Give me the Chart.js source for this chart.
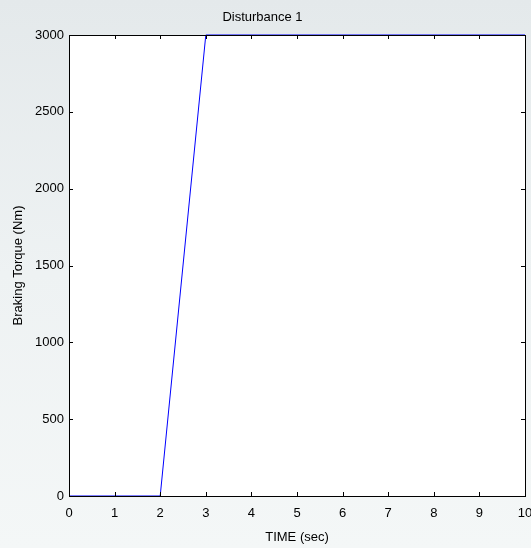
<!DOCTYPE html>
<html>
<head>
<meta charset="utf-8">
<script src="https://cdn.jsdelivr.net/npm/chart.js@4.4.1/dist/chart.umd.min.js"></script>
<style>
  html, body { margin: 0; padding: 0; }
  body {
    width: 531px; height: 548px;
    background: linear-gradient(to bottom, #e4e9eb 0%, #eef2f3 50%, #f4f7f7 100%);
  }
  #wrap { position: relative; width: 531px; height: 548px; }
</style>
</head>
<body>
<div id="wrap"><canvas id="chart" width="531" height="548"></canvas></div>
<script>
// --- data ---
const timeSec = [0, 2, 3, 10];
const torqueNm = [0, 0, 3000, 3000];
const xTicks = [0, 1, 2, 3, 4, 5, 6, 7, 8, 9, 10];
const yTicks = [0, 500, 1000, 1500, 2000, 2500, 3000];

const FONT = 'Liberation Sans, Arial, sans-serif';

// white plot area + box + inward ticks on all four sides (matlab style)
const matlabFrame = {
  id: 'matlabFrame',
  beforeDatasetsDraw(chart) {
    const { ctx, chartArea: a } = chart;
    ctx.save();
    ctx.fillStyle = '#ffffff';
    ctx.fillRect(a.left, a.top, a.right - a.left, a.bottom - a.top);
    ctx.restore();
  },
  afterDatasetsDraw(chart) {
    const { ctx, chartArea: a, scales } = chart;
    const len = 4;
    ctx.save();
    ctx.strokeStyle = '#000';
    ctx.lineWidth = 1;
    ctx.beginPath();
    scales.x.ticks.forEach(t => {
      const px = Math.round(scales.x.getPixelForValue(t.value)) + 0.5;
      ctx.moveTo(px, a.bottom); ctx.lineTo(px, a.bottom - len);
      ctx.moveTo(px, a.top); ctx.lineTo(px, a.top + len);
    });
    scales.y.ticks.forEach(t => {
      const py = Math.round(scales.y.getPixelForValue(t.value)) + 0.5;
      ctx.moveTo(a.left, py); ctx.lineTo(a.left + len, py);
      ctx.moveTo(a.right, py); ctx.lineTo(a.right - len, py);
    });
    ctx.stroke();
    ctx.strokeRect(Math.round(a.left) + 0.5, Math.round(a.top) + 0.5,
      Math.round(a.right - a.left), Math.round(a.bottom - a.top));
    ctx.restore();
  }
};

new Chart(document.getElementById('chart'), {
  type: 'line',
  data: {
    datasets: [{
      data: timeSec.map((t, i) => ({ x: t, y: torqueNm[i] })),
      borderColor: '#0000ff',
      borderWidth: 1,
      pointRadius: 0,
      tension: 0,
      fill: false,
      clip: 2
    }]
  },
  options: {
    responsive: false,
    animation: false,
    layout: { padding: { top: 0, right: 6, bottom: 0, left: 0 } },
    plugins: {
      legend: { display: false },
      tooltip: { enabled: false },
      title: {
        display: true,
        text: 'Disturbance 1',
        color: '#000',
        font: { family: FONT, size: 13, weight: 'normal', lineHeight: 1.2 },
        padding: { top: 10, bottom: 9.4 }
      }
    },
    scales: {
      x: {
        type: 'linear',
        min: 0, max: 10,
        afterBuildTicks: s => { s.ticks = xTicks.map(v => ({ value: v })); },
        afterFit: s => { s.height = 52; s.paddingLeft = 0; s.paddingRight = 0; },
        grid: { display: false, drawTicks: false },
        border: { display: false },
        ticks: {
          color: '#000', padding: 10, maxRotation: 0, autoSkip: false,
          font: { family: FONT, size: 13 },
          callback: v => String(v)
        },
        title: {
          display: true, text: 'TIME (sec)', color: '#000',
          font: { family: FONT, size: 13 },
          padding: { top: 0, bottom: 3 }
        }
      },
      y: {
        type: 'linear',
        min: 0, max: 3000,
        afterBuildTicks: s => { s.ticks = yTicks.map(v => ({ value: v })); },
        afterFit: s => { s.width = 69; s.paddingTop = 0; s.paddingBottom = 0; },
        grid: { display: false, drawTicks: false },
        border: { display: false },
        ticks: {
          color: '#000', padding: 5, autoSkip: false,
          font: { family: FONT, size: 13 },
          callback: v => String(v)
        },
        title: {
          display: true, text: 'Braking Torque (Nm)', color: '#000',
          font: { family: FONT, size: 13 },
          padding: { top: 11, bottom: 0 }
        }
      }
    }
  },
  plugins: [matlabFrame]
});
</script>
</body>
</html>
